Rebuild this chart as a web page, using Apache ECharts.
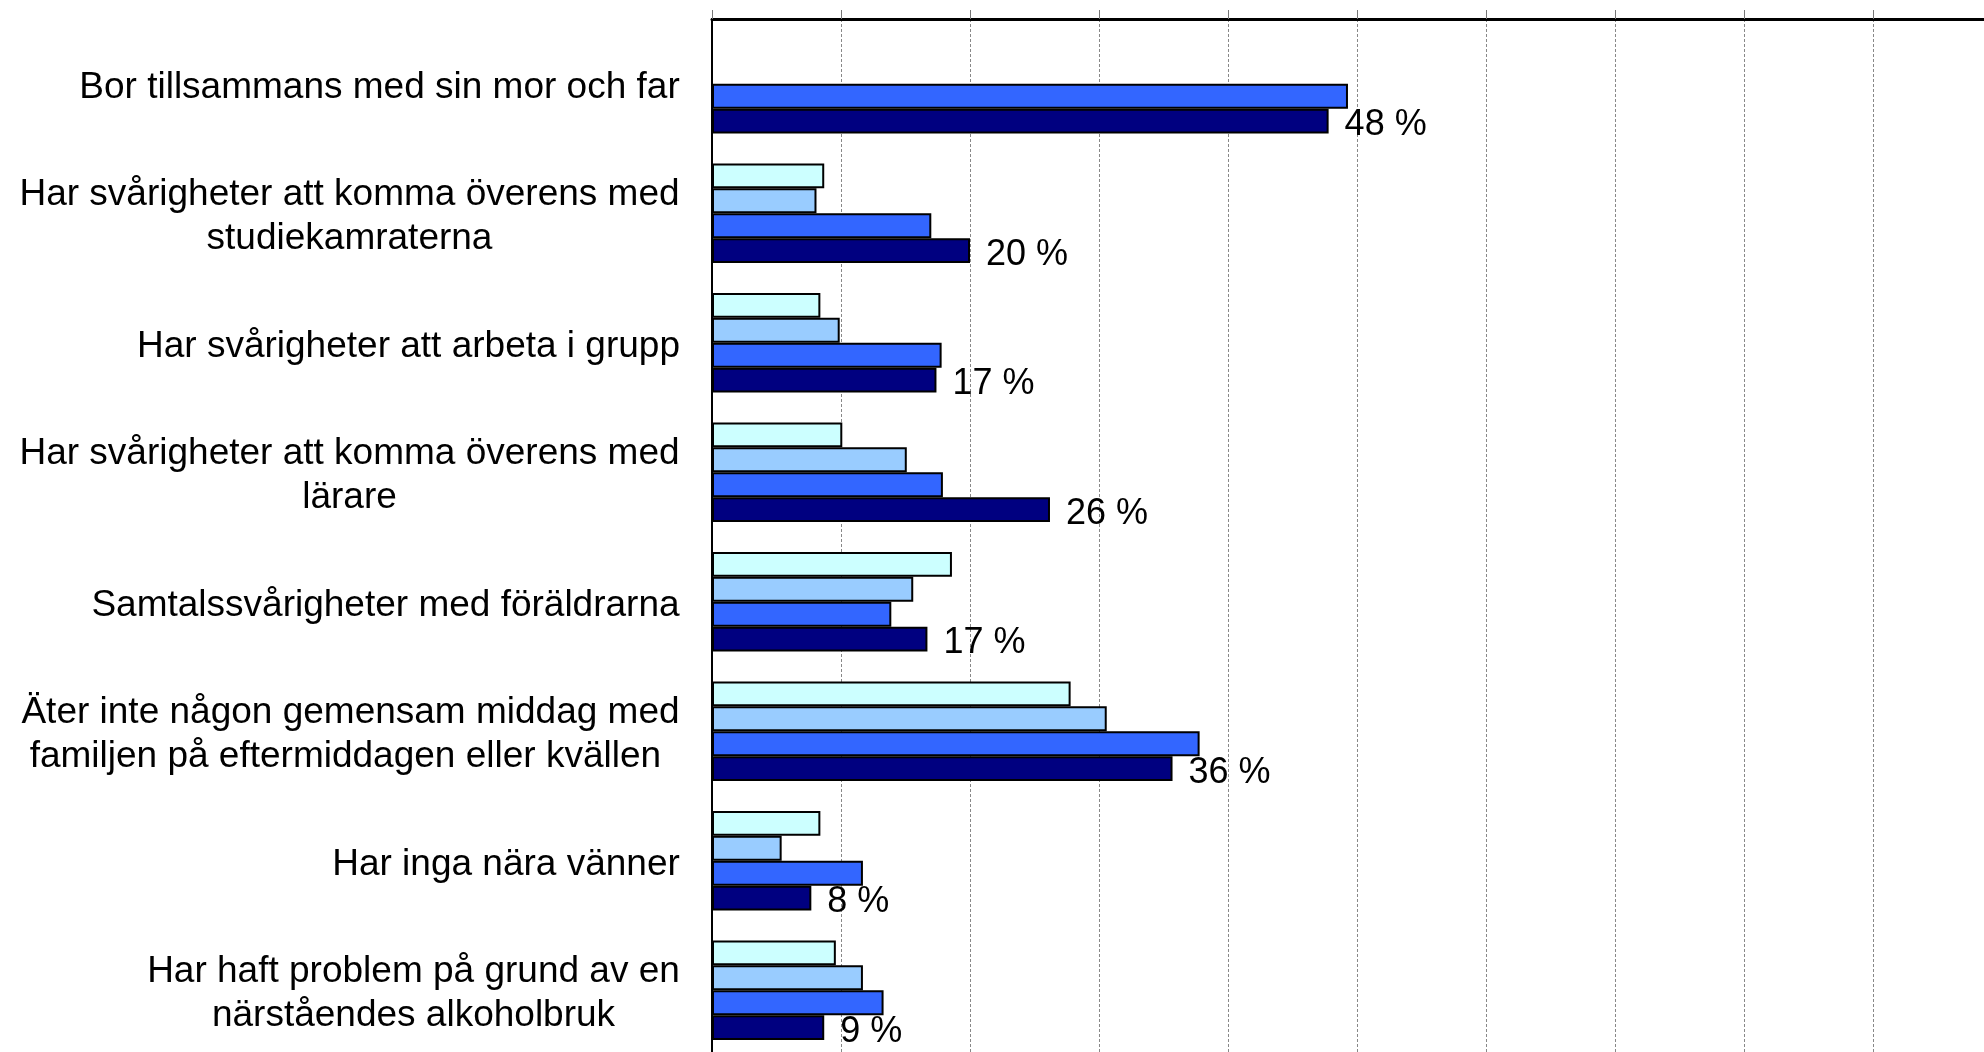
<!DOCTYPE html>
<html>
<head>
<meta charset="utf-8">
<script src="https://cdn.jsdelivr.net/npm/echarts@6/dist/echarts.min.js"></script>
<style>
  html, body { margin: 0; padding: 0; background: #fff; }
  #chart { width: 1984px; height: 1052px; }
</style>
</head>
<body>
<div id="chart"></div>
<script>
const categories = [
  "Bor tillsammans med sin mor och far",
  "Har svårigheter att komma överens med\nstudiekamraterna",
  "Har svårigheter att arbeta i grupp",
  "Har svårigheter att komma överens med\nlärare",
  "Samtalssvårigheter med föräldrarna",
  "Äter inte någon gemensam middag med\nfamiljen på eftermiddagen eller kvällen ",
  "Har inga nära vänner",
  "Har haft problem på grund av en\nnärståendes alkoholbruk"
];
// four groups per category, top to bottom
const serie1 = [null, 8.7, 8.4, 10.1, 18.6, 27.8, 8.4, 9.6];
const serie2 = [null, 8.1, 9.9, 15.1, 15.6, 30.6, 5.4, 11.7];
const serie3 = [49.3, 17.0, 17.8, 17.9, 13.9, 37.8, 11.7, 13.3];
const serie4 = [47.8, 20.0, 17.4, 26.2, 16.7, 35.7, 7.7, 8.7];

const FONT = "'Liberation Sans', Arial, sans-serif";
const colors = ["#CCFFFF", "#99CCFF", "#3366FF", "#000080"];

// each label block is right aligned, its lines centred inside it
const ctx = document.createElement("canvas").getContext("2d");
ctx.font = "37px " + FONT;
const rich = {};
categories.forEach(function (c, i) {
  const w = Math.max.apply(null, c.split("\n").map(function (l) {
    return ctx.measureText(l).width;
  }));
  rich["c" + i] = {
    width: Math.ceil(w),
    align: "center",
    fontSize: 37,
    fontFamily: FONT,
    color: "#000",
    lineHeight: 44
  };
});

const chart = echarts.init(document.getElementById("chart"));

function barSeries(data, idx) {
  return {
    type: "bar",
    data: data,
    barGap: "0%",
    barCategoryGap: "23%",
    itemStyle: { color: colors[idx], borderColor: "#000", borderWidth: 2 },
    label: idx === 3 ? {
      show: true,
      position: "right",
      distance: 16,
      offset: [0, 4],
      fontSize: 36,
      fontFamily: FONT,
      color: "#000",
      formatter: function (p) { return Math.round(p.value) + " %"; }
    } : { show: false },
    emphasis: { disabled: true },
    animation: false
  };
}

const option = {
  backgroundColor: "#fff",
  animation: false,
  grid: {
    left: 712,
    top: 19,
    right: -18,
    bottom: -3,
    containLabel: false,
    outerBoundsMode: "none"
  },
  xAxis: {
    type: "value",
    position: "top",
    min: 0,
    max: 100,
    interval: 10,
    axisLabel: { show: false },
    axisLine: { show: true, lineStyle: { color: "#000", width: 3 } },
    axisTick: { show: true, length: 9, lineStyle: { color: "#777", width: 1 } },
    splitLine: { show: true, lineStyle: { color: "#888", width: 1, type: [3, 2] } }
  },
  yAxis: {
    type: "category",
    inverse: true,
    data: categories,
    axisLine: { show: true, lineStyle: { color: "#000", width: 2 } },
    axisTick: { show: false },
    axisLabel: {
      margin: 32,
      align: "right",
      padding: [8, 0, 0, 0],
      fontSize: 37,
      fontFamily: FONT,
      color: "#000",
      rich: rich,
      formatter: function (value, index) {
        return value.split("\n").map(function (l) {
          return "{c" + index + "|" + l + "}";
        }).join("\n");
      }
    }
  },
  series: [
    barSeries(serie1, 0),
    barSeries(serie2, 1),
    barSeries(serie3, 2),
    barSeries(serie4, 3)
  ]
};
chart.setOption(option);
</script>
</body>
</html>
